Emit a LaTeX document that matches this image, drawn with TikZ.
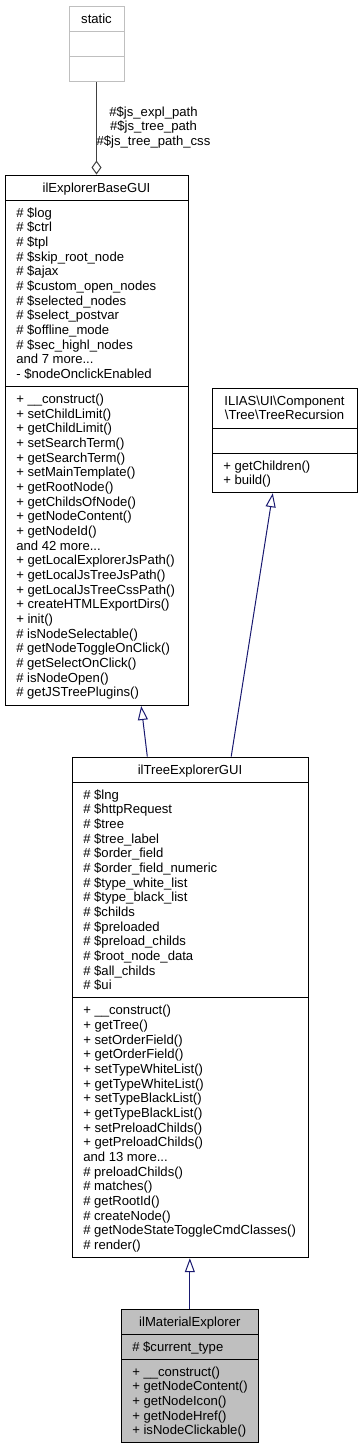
\documentclass[tikz,border=0pt]{standalone}
\usepackage{fontspec}
\setmainfont{Liberation Sans}
\usetikzlibrary{arrows.meta,fit,calc}
\definecolor{inhblue}{HTML}{191970}
\definecolor{greyfill}{HTML}{BFBFBF}
\definecolor{greydark}{HTML}{404040}
\newcommand\mydots{...}
\begin{document}
\begin{tikzpicture}[x=0.75pt,y=-0.75pt,
  font=\fontsize{9.83pt}{11pt}\selectfont,
  cls/.style={draw=black, line width=0.75pt, inner sep=0pt, fit={#1}},
  txt/.style={anchor=base west, inner sep=0pt},
  ttl/.style={anchor=base, inner sep=0pt},
  sepline/.style={draw=black, line width=0.75pt},
  inh/.style={draw=inhblue, line width=0.75pt, -{Triangle[open, length=10.5pt, width=7.5pt]}},
  agg/.style={draw=greydark, line width=0.75pt, -{Diamond[open, length=10.5pt, width=7.5pt]}},
  lbl/.style={align=center, inner sep=0pt}
]
\useasboundingbox (0,0) rectangle (362,1449);

% ---------- static ----------
\node[cls={(69,6.5)(124,81.7)}, draw=greyfill] (static) {};
\draw[greyfill, line width=0.75pt] (69,31.6) -- (124,31.6);
\draw[greyfill, line width=0.75pt] (69,56.6) -- (124,56.6);
\node[ttl] (static-t) at (96.5,23.5) {static};

% ---------- ilExplorerBaseGUI ----------
\node[cls={(5,175)(188,705.5)}] (base) {};
\draw[sepline] (5,200.07) -- (188,200.07);
\draw[sepline] (5,386.5) -- (188,386.5);
\node[ttl] (base-t) at (96.5,192) {ilExplorerBaseGUI};
\foreach \s [count=\i from 0] in {\# \$log,\# \$ctrl,\# \$tpl,\# \$skip\_root\_node,\# \$ajax,\# \$custom\_open\_nodes,\# \$selected\_nodes,\# \$select\_postvar,\# \$offline\_mode,\# \$sec\_highl\_nodes,and 7 more\mydots,- \$nodeOnclickEnabled}
  \node[txt] (base-a\i) at (16,217.1+\i*14.67) {\s};
\foreach \s [count=\i from 0] in {+ \_\_construct(),+ setChildLimit(),+ getChildLimit(),+ setSearchTerm(),+ getSearchTerm(),+ setMainTemplate(),+ getRootNode(),+ getChildsOfNode(),+ getNodeContent(),+ getNodeId(),and 42 more\mydots,+ getLocalExplorerJsPath(),+ getLocalJsTreeJsPath(),+ getLocalJsTreeCssPath(),+ createHTMLExportDirs(),+ init(),\# isNodeSelectable(),\# getNodeToggleOnClick(),\# getSelectOnClick(),\# isNodeOpen(),\# getJSTreePlugins()}
  \node[txt] (base-m\i) at (16,403.5+\i*14.67) {\s};

% ---------- ILIAS\UI\Component\Tree\TreeRecursion ----------
\node[cls={(212,388)(357,492.7)}] (ilias) {};
\draw[sepline] (212,428.2) -- (357,428.2);
\draw[sepline] (212,453.2) -- (357,453.2);
\node[ttl] (ilias-t1) at (284.5,405) {ILIAS\textbackslash UI\textbackslash Component};
\node[ttl] (ilias-t2) at (284.5,419.7) {\textbackslash Tree\textbackslash TreeRecursion};
\node[txt] (ilias-m0) at (223,470.2) {+ getChildren()};
\node[txt] (ilias-m1) at (223,484.9) {+ build()};

% ---------- ilTreeExplorerGUI ----------
\node[cls={(72,757)(308,1257.7)}] (tree) {};
\draw[sepline] (72,782.07) -- (308,782.07);
\draw[sepline] (72,997.9) -- (308,997.9);
\node[ttl] (tree-t) at (190,774) {ilTreeExplorerGUI};
\foreach \s [count=\i from 0] in {\# \$lng,\# \$httpRequest,\# \$tree,\# \$tree\_label,\# \$order\_field,\# \$order\_field\_numeric,\# \$type\_white\_list,\# \$type\_black\_list,\# \$childs,\# \$preloaded,\# \$preload\_childs,\# \$root\_node\_data,\# \$all\_childs,\# \$ui}
  \node[txt] (tree-a\i) at (83,799.1+\i*14.67) {\s};
\foreach \s [count=\i from 0] in {+ \_\_construct(),+ getTree(),+ setOrderField(),+ getOrderField(),+ setTypeWhiteList(),+ getTypeWhiteList(),+ setTypeBlackList(),+ getTypeBlackList(),+ setPreloadChilds(),+ getPreloadChilds(),and 13 more\mydots,\# preloadChilds(),\# matches(),\# getRootId(),\# createNode(),\# getNodeStateToggleCmdClasses(),\# render()}
  \node[txt] (tree-m\i) at (83,1014.9+\i*14.67) {\s};

% ---------- ilMaterialExplorer ----------
\node[cls={(121.7,1309)(258,1442.9)}, fill=greyfill] (mat) {};
\draw[sepline] (121.7,1334.07) -- (258,1334.07);
\draw[sepline] (121.7,1359.1) -- (258,1359.1);
\node[ttl] (mat-t) at (189.85,1326) {ilMaterialExplorer};
\node[txt] (mat-a0) at (132,1351.1) {\# \$current\_type};
\foreach \s [count=\i from 0] in {+ \_\_construct(),+ getNodeContent(),+ getNodeIcon(),+ getNodeHref(),+ isNodeClickable()}
  \node[txt] (mat-m\i) at (132,1376.1+\i*14.67) {\s};

% ---------- connectors ----------
\draw[agg] (static.south) -- (static.south |- base.north);
\node[lbl] (agg-lbl) at (153.5,127.3) {\#\$js\_expl\_path\\\#\$js\_tree\_path\\\#\$js\_tree\_path\_css};
\draw[inh] ($(tree.north west)+(75.8,0)$) -- ($(base.south west)+(136.7,0)$);
\draw[inh] ($(tree.north west)+(159.7,0)$) -- ($(ilias.south west)+(61.3,0)$);
\draw[inh] (mat.north) -- (mat.north |- tree.south);
\end{tikzpicture}
\end{document}
